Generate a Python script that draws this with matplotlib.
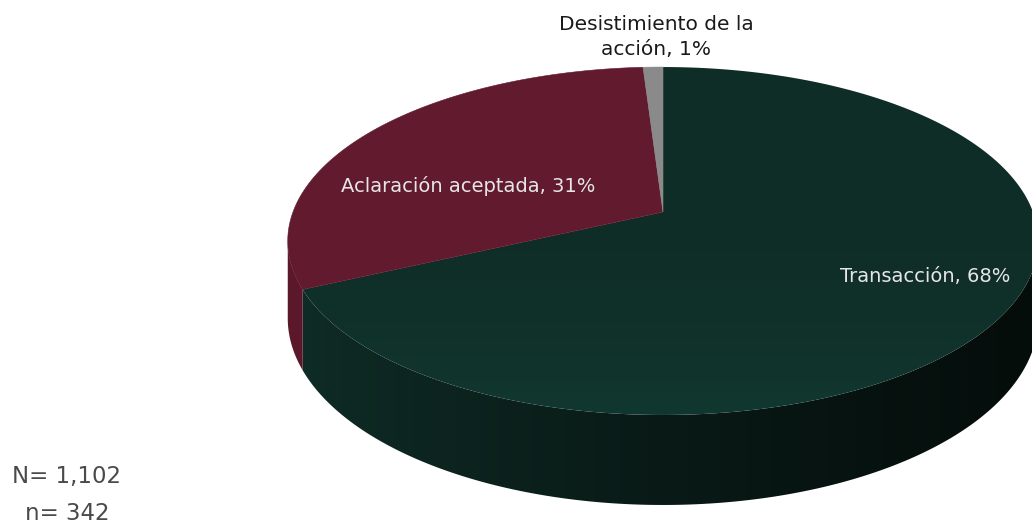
import numpy as np
import matplotlib.pyplot as plt
from matplotlib.patches import Polygon
from matplotlib.colors import LinearSegmentedColormap

labels = ["Transacción", "Aclaración aceptada", "Desistimiento de la\nacción"]
shares = [68, 31, 1]
top_colors = ["#0f2e28", "#621a2e", "#8a8a8a"]
side_light = ["#0f2c26", "#5c182b", "#777777"]
side_dark = ["#050d0b", "#40101e", "#555555"]
N_total = "1,102"
n_sample = "342"

# projection of the disk: centre, half width, perspective, depth
CX, S = 663, 370
PA, PB, PC = -133.8, 212.0, 0.1667
DEPTH = 75
W, H = 1032, 529


def proj(theta, drop=0.0):
    s, c = np.sin(theta), np.cos(theta)
    w = 1 + PC * s
    return CX + S * c / w, (PA * s + PB) / w + drop / w


def shaded(verts, cmap, grad, z):
    patch = Polygon(verts, closed=True, fc="none", ec="none", zorder=z)
    ax.add_patch(patch)
    im = ax.imshow(grad, cmap=cmap, extent=[0, W, H, 0], aspect="auto",
                   interpolation="bilinear", zorder=z, vmin=0, vmax=1)
    im.set_clip_path(patch)


fig = plt.figure(figsize=(10.32, 5.29), dpi=100)
ax = fig.add_axes([0, 0, 1, 1])

fr = np.array(shares) / sum(shares)
bounds = 90 - 360 * np.concatenate([[0], np.cumsum(fr)])

xx = np.linspace(0, 1, W)
horiz = np.tile(np.clip((xx * W - 300) / 730, 0, 1) ** 0.8, (H, 1))
yy = np.linspace(0, 1, H)[:, None]
vert = np.tile(np.clip((yy * H - 180) / 235, 0, 1) ** 2, (1, W))

# side wall between the two silhouette angles
sil = np.degrees(np.arcsin(PC))
for i in range(len(shares)):
    lo, hi = bounds[i + 1], bounds[i]
    for shift in (0, 360):
        a, b = max(lo + shift, 180 + sil), min(hi + shift, 360 - sil)
        if b <= a:
            continue
        th = np.radians(np.linspace(a, b, 200))
        xt, yt = proj(th)
        xb, yb = proj(th, DEPTH)
        verts = np.column_stack([np.r_[xt, xb[::-1]], np.r_[yt, yb[::-1]]])
        cmap = LinearSegmentedColormap.from_list("s", [side_light[i], side_dark[i]])
        shaded(verts, cmap, horiz, 1)

# top face slices
for i in range(len(shares)):
    th = np.radians(np.linspace(bounds[i], bounds[i + 1], 300))
    xs, ys = proj(th)
    verts = np.column_stack([np.r_[CX, xs], np.r_[PB, ys]])
    if i == 0:
        cmap = LinearSegmentedColormap.from_list("t", ["#0f2d27", "#113830"])
        shaded(verts, cmap, vert, 2)
    else:
        ax.add_patch(Polygon(verts, closed=True, fc=top_colors[i],
                             ec=top_colors[i], lw=0.4, zorder=2))

ax.set_xlim(0, W)
ax.set_ylim(H, 0)
ax.axis("off")

font = "DejaVu Sans"
ax.text(925, 276, f"{labels[0]}, {shares[0]}%", color="#e6e6e6", fontsize=14,
        ha="center", va="center", family=font, zorder=5)
ax.text(468, 186, f"{labels[1]}, {shares[1]}%", color="#e6e6e6", fontsize=14,
        ha="center", va="center", family=font, zorder=5)
ax.text(656, 37, f"{labels[2]}, {shares[2]}%", color="#1a1a1a", fontsize=14.5,
        ha="center", va="center", family=font, linespacing=1.35, zorder=5)

ax.text(67, 477, f"N= {N_total}", color="#4a4a4a", fontsize=16.5, ha="center",
        va="center", family=font)
ax.text(67, 514, f"n= {n_sample}", color="#4a4a4a", fontsize=16.5, ha="center",
        va="center", family=font)

fig.savefig("out.png", dpi=100)
